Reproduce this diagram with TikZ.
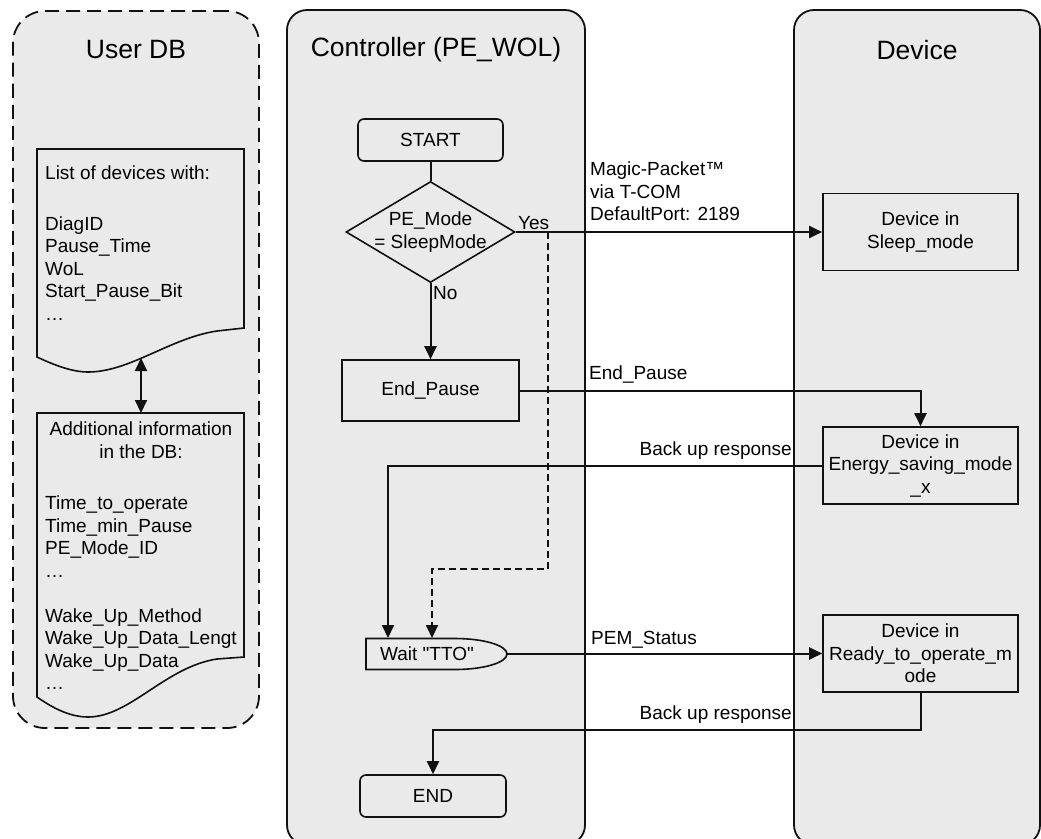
\documentclass[tikz,border=0pt]{standalone}
\usepackage{fontspec}
\setmainfont{Liberation Sans}
\usepackage{tikz}
\usetikzlibrary{positioning,arrows.meta,shapes.geometric,calc}
\definecolor{LaneGray}{HTML}{EAEAEA}
\definecolor{FlowInk}{HTML}{111111}
\tikzset{
  lane/.style={draw=FlowInk,fill=LaneGray,line width=1.8pt,rounded corners=20pt,inner sep=0pt},
  dblane/.style={lane,dash pattern=on 14pt off 7pt,rounded corners=32pt},
  lanetitle/.style={font=\fontsize{26.5pt}{30pt}\selectfont,inner sep=0pt},
  pbox/.style={draw=FlowInk,fill=LaneGray,line width=1.6pt,align=center,inner sep=0pt,font=\fontsize{19pt}{22.5pt}\selectfont,minimum width=195pt,minimum height=77pt},
  pterm/.style={pbox,rounded corners=6pt,minimum height=42pt},
  pdecide/.style={diamond,draw=FlowInk,fill=LaneGray,line width=1.6pt,inner sep=0pt,minimum width=169pt,minimum height=101pt},
  pdoc/.style={draw=FlowInk,fill=LaneGray,line width=1.6pt},
  ptext/.style={font=\fontsize{19pt}{22.5pt}\selectfont,inner sep=0pt,align=left},
  pline/.style={draw=FlowInk,line width=2pt},
  pflow/.style={-{Triangle[length=13pt,width=12pt]},draw=FlowInk,line width=2pt},
  pdash/.style={pflow,line width=1.8pt,dash pattern=on 7pt off 4pt}
}
\begin{document}
\begin{tikzpicture}[x=1pt,y=-1pt]
  \clip (0,0) rectangle (1041,838);
  % swim lanes
  \node[dblane,minimum width=246pt,minimum height=717pt] (userdb) at (136,369.5) {};
  \node[lane,minimum width=298pt,minimum height=835pt] (ctrl) at (436,427.5) {};
  \node[lane,minimum width=246pt,minimum height=835pt] (device) at (917,427.5) {};
  \node[lanetitle] (dbtitle) at (136,50) {User DB};
  \node[lanetitle] (ctrltitle) at (436,50) {Controller (PE\_WOL)};
  \node[lanetitle] (devtitle) at (917,50) {Device};

  % user DB documents
  \draw[pdoc] (37,149) -- (244,149) -- (244,328) -- (217,331)
    .. controls (170,338) and (130,372) .. (88,372)
    .. controls (70,372) and (50,363) .. (37,357) -- cycle;
  \draw[pdoc] (37,413) -- (244,413) -- (244,657) -- (217,659)
    .. controls (165,667) and (130,717) .. (88,717)
    .. controls (68,717) and (50,706) .. (37,697) -- cycle;
  \node[ptext,anchor=north west] (devlist) at (45,166) {List of devices with:\\[28pt]DiagID\\Pause\_Time\\WoL\\Start\_Pause\_Bit\\…};
  \node[ptext,align=center,anchor=north] (dbhead) at (141,422) {Additional information\\in the DB:};
  \node[ptext,anchor=north west] (dbinfo) at (45,496) {Time\_to\_operate\\Time\_min\_Pause\\PE\_Mode\_ID\\…\\[22.5pt]Wake\_Up\_Method\\Wake\_Up\_Data\_Lengt\\Wake\_Up\_Data\\…};
  \coordinate (listwave) at (141,358);
  \coordinate (infotop) at (141,413);
  \draw[pflow,{Triangle[length=13pt,width=12pt]}-{Triangle[length=13pt,width=12pt]}] (listwave) -- (infotop);

  % controller
  \node[pterm,minimum width=145pt] (start) at (430.5,140) {START};
  \node[pdecide] (mode) at (430.5,232) {};
  \node[ptext,align=center] (modetxt) at (mode.center) {PE\_Mode\\= SleepMode};
  \node[pbox,minimum width=177pt,minimum height=61pt] (endpause) at (430.5,390.5) {End\_Pause};
  \draw[pdoc] (366,638.5) -- (455,638.5) arc[start angle=-90,end angle=90,x radius=52,y radius=15.5] -- (366,669.5) -- cycle;
  \node[ptext] (waittxt) at (427,654) {Wait \textquotedbl TTO\textquotedbl};
  \node[pterm,minimum width=146pt] (endbox) at (433,796) {END};

  % device
  \node[pbox] (sleep) at (920.5,232) {Device in\\Sleep\_mode};
  \node[pbox] (energy) at (920.5,465.5) {Device in\\Energy\_saving\_mode\\\_x};
  \node[pbox] (ready) at (920.5,653.5) {Device in\\Ready\_to\_operate\_m\\ode};

  % connectors
  \coordinate (yesfork) at (548,232);
  \coordinate (waitleft) at (388,638);
  \coordinate (waitmid) at (432,638);
  \coordinate (waittip) at (507,653.5);
  \draw[pline] (start) -- (mode);
  \draw[pflow] (mode) -- (endpause);
  \draw[pflow] (mode.east) -- (sleep.west);
  \draw[pdash] (yesfork) -- ++(0,337) -| (waitmid);
  \draw[pflow] (endpause.east) -| (energy.north);
  \draw[pflow] (energy.west) -| (waitleft);
  \draw[pflow] (waittip) -- (ready.west);
  \draw[pflow] (ready.south) -- ++(0,37) -| (endbox.north);

  % connector labels
  \node[ptext,anchor=base west] (yeslbl) at (518,229) {Yes};
  \node[ptext,anchor=base west] (nolbl) at (433,299) {No};
  \node[ptext,anchor=north west] (magiclbl) at (590,162) {Magic-Packet™\\via T-COM\\DefaultPort: 2189};
  \node[ptext,anchor=base west] (pauselbl) at (589,379) {End\_Pause};
  \node[ptext,anchor=base east] (backlbl) at (792,455) {Back up response};
  \node[ptext,anchor=base west] (pemlbl) at (591,644) {PEM\_Status};
  \node[ptext,anchor=base east] (backendlbl) at (792,719) {Back up response};
\end{tikzpicture}
\end{document}
